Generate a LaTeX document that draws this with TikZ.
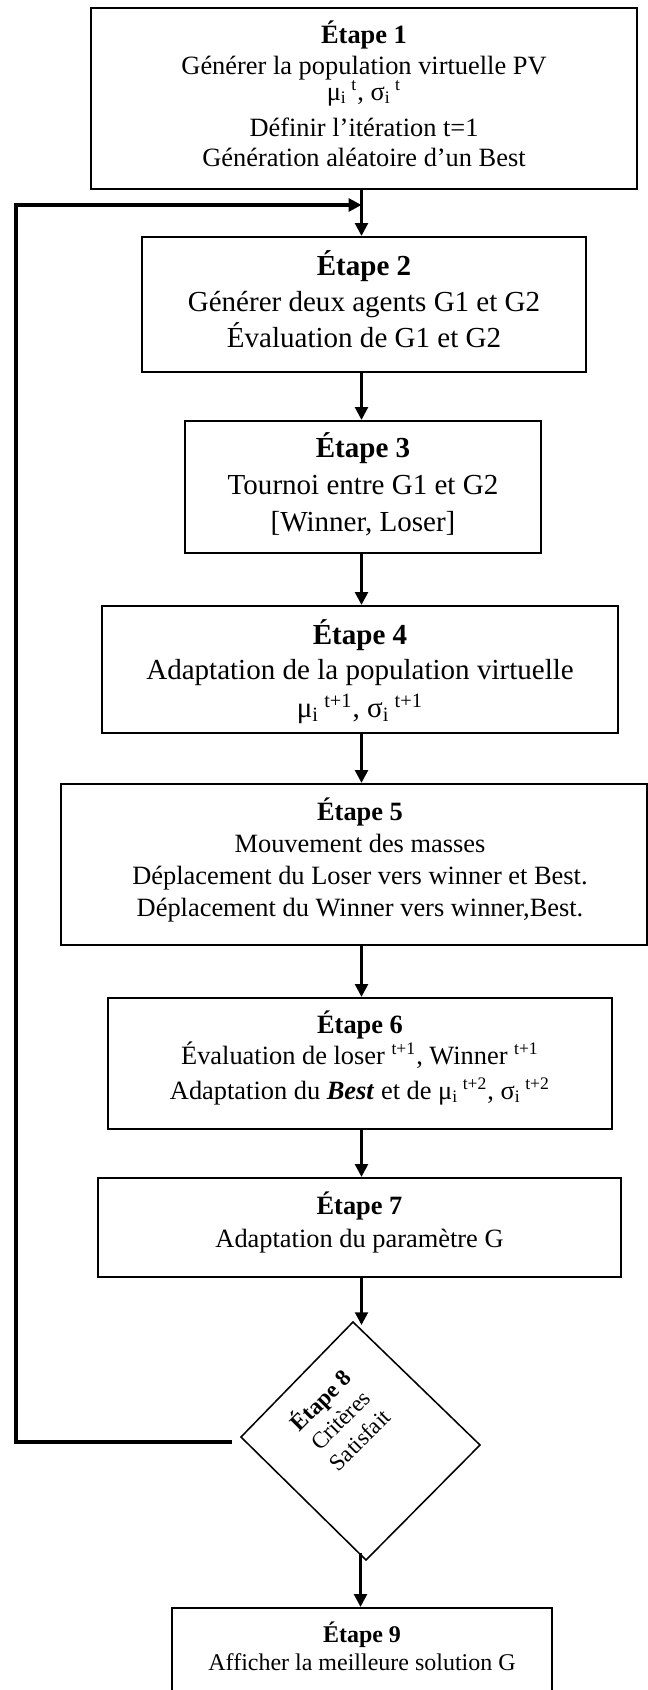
\documentclass[tikz,border=0pt]{standalone}
\usepackage{fontspec}
\setmainfont{Liberation Serif}
\usetikzlibrary{arrows.meta,fit}

\begin{document}
\begin{tikzpicture}[x=0.454545pt, y=-0.454545pt,
  stepbox/.style={draw, line width=1pt, inner sep=0pt},
  ln/.style={anchor=base, inner sep=0pt},
  flow/.style={line width=1.3pt, -{Triangle[length=5.8pt,width=5.8pt]}},
  loopback/.style={line width=1.4pt, line join=miter, -{Triangle[length=5.8pt,width=5.8pt]}},
  decision/.style={line width=0.7pt, line join=miter},
  sz12/.style={font=\fontsize{12}{14}\selectfont},
  sz13/.style={font=\fontsize{13.2}{16}\selectfont},
  sz11/.style={font=\fontsize{10.9}{13}\selectfont},
  sz10/.style={font=\fontsize{10.5}{12.6}\selectfont}]

\useasboundingbox (0,0) rectangle (648,1690);
\fill[white] (0,0) rectangle (648,1690);
\clip (0,0) rectangle (648,1690);

% step 1
\node[stepbox, fit={(91,8) (637,189)}] (b1) {};
\node[ln, sz12] (b1a) at (364,44)  {\textbf{Étape 1}};
\node[ln, sz12] (b1b) at (364,74)  {Générer la population virtuelle PV};
\node[ln, sz12] (b1c) at (364,100) {μ\textsubscript{i}\textsuperscript{ t}, σ\textsubscript{i}\textsuperscript{ t}};
\node[ln, sz12] (b1d) at (364,136) {Définir l’itération t=1};
\node[ln, sz12] (b1e) at (364,166) {Génération aléatoire d’un Best};

% step 2
\node[stepbox, fit={(142,237) (586,372)}] (b2) {};
\node[ln, sz13] (b2a) at (364,275) {\textbf{Étape 2}};
\node[ln, sz13] (b2b) at (364,311) {Générer deux agents G1 et G2};
\node[ln, sz13] (b2c) at (364,347) {Évaluation de G1 et G2};

% step 3
\node[stepbox, fit={(185,421) (541,553)}] (b3) {};
\node[ln, sz13] (b3a) at (363,457) {\textbf{Étape 3}};
\node[ln, sz13] (b3b) at (363,494) {Tournoi entre G1 et G2};
\node[ln, sz13] (b3c) at (363,531) {[Winner, Loser]};

% step 4
\node[stepbox, fit={(102,606) (618,733)}] (b4) {};
\node[ln, sz13] (b4a) at (360,644) {\textbf{Étape 4}};
\node[ln, sz13] (b4b) at (360,679) {Adaptation de la population virtuelle};
\node[ln, sz13] (b4c) at (360,717) {μ\textsubscript{i}\textsuperscript{ t+1}, σ\textsubscript{i}\textsuperscript{ t+1}};

% step 5
\node[stepbox, fit={(61,784) (647,945)}] (b5) {};
\node[ln, sz12] (b5a) at (360,820) {\textbf{Étape 5}};
\node[ln, sz12] (b5b) at (360,852) {Mouvement des masses};
\node[ln, sz12] (b5c) at (360,884) {Déplacement du Loser vers winner et Best.};
\node[ln, sz12] (b5d) at (360,916) {Déplacement du Winner vers winner,Best.};

% step 6
\node[stepbox, fit={(108,998) (612,1129)}] (b6) {};
\node[ln, sz12] (b6a) at (360,1033) {\textbf{Étape 6}};
\node[ln, sz12] (b6b) at (360,1064) {Évaluation de loser \textsuperscript{t+1}, Winner \textsuperscript{t+1}};
\node[ln, sz12] (b6c) at (360,1099) {Adaptation du \textbf{\textit{Best}} et de μ\textsubscript{i}\textsuperscript{ t+2}, σ\textsubscript{i}\textsuperscript{ t+2}};

% step 7
\node[stepbox, fit={(98,1178) (621,1277)}] (b7) {};
\node[ln, sz12] (b7a) at (359.5,1214) {\textbf{Étape 7}};
\node[ln, sz12] (b7b) at (359.5,1247) {Adaptation du paramètre G};

% step 8: decision
\coordinate (dT) at (353,1322);
\coordinate (dR) at (480,1445);
\coordinate (dB) at (366,1560);
\coordinate (dL) at (241,1437);
\draw[decision] (dT) -- (dR) -- (dB) -- (dL) -- cycle;
\node[sz10, rotate=45, align=center, inner sep=0pt] (b8) at (339,1419)
  {\textbf{Étape 8}\\Critères\\Satisfait};

% step 9
\node[stepbox, fit={(172,1608) (552,1720)}] (b9) {};
\node[ln, sz11] (b9a) at (362,1642) {\textbf{Étape 9}};
\node[ln, sz11] (b9b) at (362,1670) {Afficher la meilleure solution G};

% connectors
\coordinate (X) at (361.5,0);
\coordinate (Xb) at (360.5,0);
\draw[flow] (b1.south -| X) -- (b2.north -| X);
\draw[flow] (b2.south -| X) -- (b3.north -| X);
\draw[flow] (b3.south -| X) -- (b4.north -| X);
\draw[flow] (b4.south -| X) -- (b5.north -| X);
\draw[flow] (b5.south -| X) -- (b6.north -| X);
\draw[flow] (b6.south -| X) -- (b7.north -| X);
\coordinate (din) at (361.5,1325);
\draw[flow] (b7.south -| X) -- (din);
\coordinate (dout) at (360.5,1553);
\draw[flow] (dout) -- (b9.north -| Xb);

% loop back when the criteria are not met
\coordinate (fb) at (232,1442);
\coordinate (fbin) at (361.5,205);
\draw[loopback] (fb) -- (16,1442) -- (16,205) -- (fbin);
\end{tikzpicture}
\end{document}
